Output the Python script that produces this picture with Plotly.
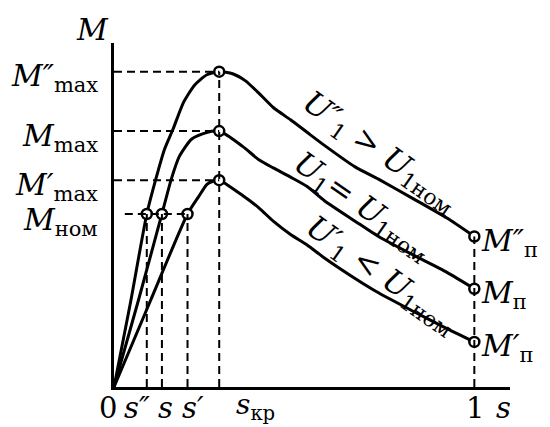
import plotly.graph_objects as go

# ---- data (s = slip, M = torque, relative units) ----
s_upper = [0, 0.045, 0.091, 0.116, 0.140, 0.164, 0.193, 0.224, 0.258, 0.292, 0.329, 0.365,
           0.402, 0.442, 0.490, 0.535, 0.584, 0.669, 0.734, 0.830, 0.924, 1.0]
M_upper = [0, 0.81, 1.69, 2.03, 2.32, 2.52, 2.78, 2.95, 3.05, 3.08, 3.06, 2.99,
           2.87, 2.73, 2.61, 2.49, 2.36, 2.15, 2.03, 1.84, 1.65, 1.47]

s_middle = [0, 0.068, 0.133, 0.159, 0.181, 0.215, 0.252, 0.292, 0.357, 0.402, 0.442, 0.490,
            0.535, 0.584, 0.669, 0.734, 0.830, 0.924, 1.0]
M_middle = [0, 0.85, 1.69, 2.03, 2.25, 2.42, 2.48, 2.50, 2.35, 2.22, 2.14, 2.05,
            1.96, 1.82, 1.62, 1.47, 1.29, 1.12, 0.96]

s_lower = [0, 0.102, 0.204, 0.235, 0.258, 0.275, 0.292, 0.357, 0.402, 0.442, 0.490, 0.535,
           0.584, 0.669, 0.734, 0.830, 0.924, 1.0]
M_lower = [0, 0.85, 1.69, 1.86, 1.98, 2.01, 2.02, 1.87, 1.75, 1.62, 1.49, 1.39,
           1.26, 1.06, 0.92, 0.74, 0.57, 0.44]

s_kr = 0.292
s_nom = [0.091, 0.133, 0.204]          # s'', s, s'
M_nom = 1.69
M_max = [3.08, 2.50, 2.02]             # M''max, Mmax, M'max
M_start = [1.47, 0.96, 0.44]           # M''п, Mп, M'п

y_labels = ["<i>M″</i><sub>max</sub>", "<i>M</i><sub>max</sub>", "<i>M′</i><sub>max</sub>"]
nom_label = "<i>M</i><sub>ном</sub>"
start_labels = ["<i>M″</i><sub>п</sub>", "<i>M</i><sub>п</sub>", "<i>M′</i><sub>п</sub>"]
s_labels = ["<i>s″</i>", "<i>s</i>", "<i>s′</i>"]
s_label_pos = [0.065, 0.144, 0.218]
curve_labels = ["<i>U″</i><sub>1</sub> &gt; <i>U</i><sub>1ном</sub>",
                "<i>U</i><sub>1</sub>= <i>U</i><sub>1ном</sub>",
                "<i>U′</i><sub>1</sub> &lt; <i>U</i><sub>1ном</sub>"]

X_MAX = 1.099
Y_MAX = 3.36
FONT = "DejaVu Serif"
BLACK = "black"

fig = go.Figure()

# dashed guide lines
dash = dict(color=BLACK, width=2, dash="8px,5px")
shapes = []
for m in M_max:
    shapes.append(dict(type="line", xref="x", yref="y", x0=0, x1=s_kr, y0=m, y1=m, line=dash))
shapes.append(dict(type="line", xref="x", yref="y", x0=s_kr, x1=s_kr, y0=0, y1=M_max[0], line=dash))
shapes.append(dict(type="line", xref="x", yref="y", x0=0.03, x1=s_nom[-1], y0=M_nom, y1=M_nom, line=dash))
for sn in s_nom:
    shapes.append(dict(type="line", xref="x", yref="y", x0=sn, x1=sn, y0=0, y1=M_nom, line=dash))
shapes.append(dict(type="line", xref="x", yref="y", x0=1, x1=1, y0=0, y1=M_start[0], line=dash))

# curves
for sx, my in [(s_upper, M_upper), (s_middle, M_middle), (s_lower, M_lower)]:
    fig.add_trace(go.Scatter(x=sx, y=my, mode="lines",
                             line=dict(color=BLACK, width=3, shape="spline", smoothing=0.6),
                             hoverinfo="skip", showlegend=False))

# open circles
mx = [s_kr] * 3 + s_nom + [1.0] * 3
my = M_max + [M_nom] * 3 + M_start
fig.add_trace(go.Scatter(x=mx, y=my, mode="markers",
                         marker=dict(symbol="circle", size=10, color="white",
                                     line=dict(color=BLACK, width=2.5)),
                         hoverinfo="skip", showlegend=False))

ann = []
def A(text, s, m, size=30, xanchor="center", yanchor="middle", angle=0, yshift=0, xshift=0):
    ann.append(dict(text=text, x=s / X_MAX, y=m / Y_MAX, xref="paper", yref="paper",
                    showarrow=False, xanchor=xanchor, yanchor=yanchor, textangle=angle,
                    yshift=yshift, xshift=xshift,
                    font=dict(family=FONT, size=size, color=BLACK)))

# y-side labels
A("<i>M</i>", -0.059, Y_MAX, yanchor="bottom", yshift=-6)
for lab, m in zip(y_labels, M_max):
    A(lab, -0.04, m, xanchor="right", yshift=-6)
A(nom_label, -0.04, M_nom, xanchor="right", yshift=-8)

# right labels
for lab, m in zip(start_labels, M_start):
    A(lab, 1.013, m, xanchor="left", yshift=-6)

# bottom labels
A("0", -0.017, 0, size=29, yanchor="top", yshift=-2)
for lab, sn in zip(s_labels, s_label_pos):
    A(lab, sn, 0, size=29, yanchor="top", yshift=-2)
A("<i>s</i><sub>кр</sub>", 0.332, 0, size=28, xanchor="left", yanchor="top", yshift=1)
A("1", 1.003, 0, size=29, yanchor="top", yshift=-2)
A("<i>s</i>", 1.082, 0, size=29, yanchor="top", yshift=-2)

# labels along curves
A(curve_labels[0], 0.739, 2.29, size=31, angle=35)
A(curve_labels[1], 0.688, 1.76, size=31, angle=35)
A(curve_labels[2], 0.742, 1.09, size=31, angle=35)

# page body has an 8px margin: shrink the figure so the plot area lands where the reference has it
fig.update_layout(
    width=542, height=419,
    margin=dict(l=106, r=40, t=35, b=40),
    plot_bgcolor="white", paper_bgcolor="white",
    shapes=shapes, annotations=ann,
    xaxis=dict(range=[0, X_MAX], showgrid=False, zeroline=False, showticklabels=False,
               ticks="", showline=True, linecolor=BLACK, linewidth=3),
    yaxis=dict(range=[0, Y_MAX], showgrid=False, zeroline=False, showticklabels=False,
               ticks="", showline=True, linecolor=BLACK, linewidth=3),
)

fig.write_html("out.html")
